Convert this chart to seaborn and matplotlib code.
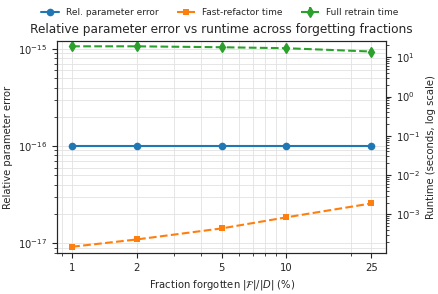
import numpy as np
import pandas as pd
import matplotlib
matplotlib.use("Agg")
import matplotlib.pyplot as plt
import seaborn as sns

fractions = [1, 2, 5, 10, 25]
tick_labels = ["1", "2", "5", "10", "25"]
rel_error = [1e-16, 1e-16, 1e-16, 1e-16, 1e-16]
fast_time = [1.5e-4, 2.3e-4, 4.4e-4, 8.4e-4, 1.9e-3]
full_time = [19.0, 19.0, 18.0, 17.0, 14.0]
full_err = [2.5, 2.5, 2.3, 2.2, 2.0]

sns.set_style("ticks")
plt.rcParams["font.family"] = ["DejaVu Sans"]

fig, ax = plt.subplots(figsize=(4.39, 2.94), dpi=100)
ax2 = ax.twinx()

df = pd.DataFrame({"frac": fractions, "err": rel_error, "fast": fast_time, "full": full_time})

sns.lineplot(data=df, x="frac", y="err", ax=ax, color="#1f77b4", marker="o",
             markersize=5.5, markeredgewidth=0, linewidth=1.5, label="Rel. parameter error", legend=False)
sns.lineplot(data=df, x="frac", y="fast", ax=ax2, color="#ff7f0e", marker="s",
             markersize=5, markeredgewidth=0, linewidth=1.5, linestyle="--", label="Fast-refactor time", legend=False)
ax2.errorbar(fractions, full_time, yerr=full_err, color="#2ca02c", marker="d",
             markersize=5, linewidth=1.5, linestyle="--", capsize=0, label="Full retrain time")

ax.set_xscale("log")
ax.set_yscale("log")
ax2.set_yscale("log")
ax.set_xticks(fractions)
ax.set_xticklabels(tick_labels)
ax.set_xlim(0.85, 29.4)
ax.set_ylim(10**-17.10, 10**-14.92)
ax2.set_ylim(1.05e-4, 10**1.41)

ax.grid(True, which="both", color="#e2e2e2", linewidth=0.6)
ax.set_axisbelow(True)

fs = 7.2
ax.set_xlabel(r"Fraction forgotten $|\mathcal{F}|/|D|$ (%)", fontsize=fs)
ax.set_ylabel("Relative parameter error", fontsize=fs)
ax2.set_ylabel("Runtime (seconds, log scale)", fontsize=fs)
ax.tick_params(labelsize=fs)
ax2.tick_params(labelsize=fs)
ax.set_title("Relative parameter error vs runtime across forgetting fractions", fontsize=8.7)

h1, l1 = ax.get_legend_handles_labels()
h2, l2 = ax2.get_legend_handles_labels()
fig.legend(h1 + h2, l1 + l2, loc="upper center", ncol=3, frameon=False, fontsize=6.5,
           bbox_to_anchor=(0.5, 1.0))

fig.subplots_adjust(left=0.13, right=0.88, bottom=0.14, top=0.86)
fig.savefig("out.png", dpi=100)
